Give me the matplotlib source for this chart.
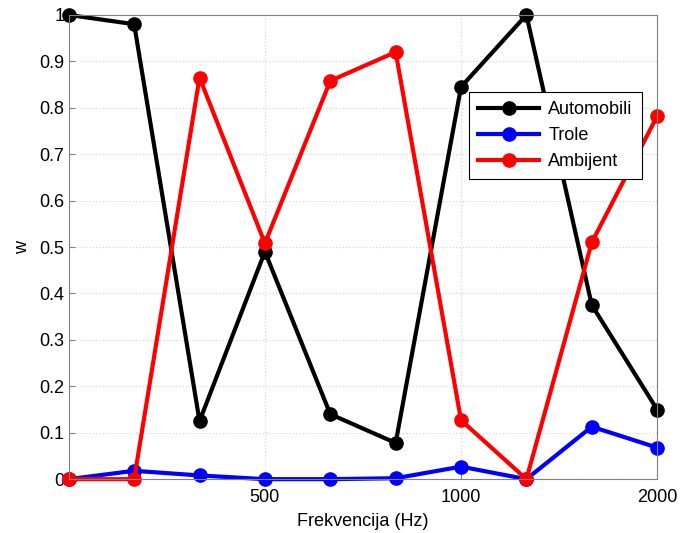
import matplotlib
matplotlib.use("Agg")
import matplotlib.pyplot as plt

idx = [1, 2, 3, 4, 5, 6, 7, 8, 9, 10]
automobili = [1.0, 0.98, 0.125, 0.49, 0.14, 0.078, 0.845, 1.0, 0.375, 0.15]
trole = [0.0, 0.018, 0.008, 0.0, 0.0, 0.002, 0.027, 0.0, 0.113, 0.068]
ambijent = [0.0, 0.0, 0.865, 0.508, 0.858, 0.92, 0.127, 0.0, 0.51, 0.782]
xtick_pos = [4, 7, 10]
xtick_labels = ["500", "1000", "2000"]

plt.rcParams['font.family'] = ['Liberation Sans', 'DejaVu Sans']
fig = plt.figure(figsize=(6.81, 5.33), dpi=100)
ax = fig.add_axes([0.101, 0.101, 0.864, 0.871])

kw = dict(lw=3, marker='o', ms=9.5)
ax.plot(idx, automobili, color='black', label='Automobili', **kw)
ax.plot(idx, trole, color='blue', label='Trole', **kw)
ax.plot(idx, ambijent, color='red', label='Ambijent', **kw)

ax.set_xlim(1, 10)
ax.set_ylim(0, 1)
ax.set_xticks(xtick_pos)
ax.set_xticklabels(xtick_labels)
ax.set_yticks([i / 10 for i in range(11)])
ax.set_yticklabels(["0", "0.1", "0.2", "0.3", "0.4", "0.5", "0.6", "0.7", "0.8", "0.9", "1"])
ax.tick_params(direction='in', labelsize=13, color='#808080', length=4)
ax.tick_params(axis='x', pad=7)
ax.tick_params(axis='y', pad=3)
ax.grid(True, ls=(0, (1, 2)), color='#d0d0d0', lw=0.8)
for s in ax.spines.values():
    s.set_color('#808080')
ax.set_xlabel('Frekvencija (Hz)', fontsize=13, labelpad=5)
ax.set_ylabel('w', fontsize=13, labelpad=6)

for line in ax.lines:
    line.set_clip_on(False)

leg = ax.legend(loc='upper right', bbox_to_anchor=(0.974, 0.834), fontsize=13,
                fancybox=False, edgecolor='black', framealpha=1, handlelength=3.4,
                borderpad=0.5, labelspacing=0.5, handletextpad=0.5, borderaxespad=0)
leg.get_frame().set_linewidth(0.8)

fig.savefig('out.png', dpi=100)
